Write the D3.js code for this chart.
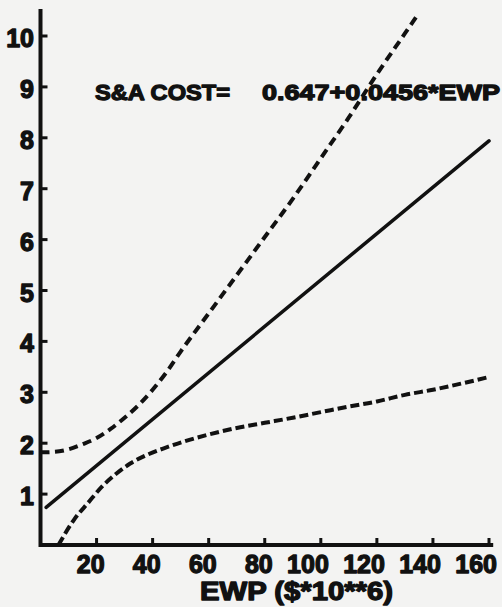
<!DOCTYPE html>
<html>
<head>
<meta charset="utf-8">
<script src="https://cdn.jsdelivr.net/npm/d3@7"></script>
<style>
  html, body { margin: 0; padding: 0; background: #f3f3f2; }
  svg { display: block; }
  text { font-family: "Liberation Sans", Arial, sans-serif; font-weight: bold; fill: #111; stroke: #111; stroke-width: 1.3; stroke-linejoin: round; }
</style>
</head>
<body>
<svg id="chart" width="502" height="607"></svg>
<script>
// ---- data ----
const xTicks = [20, 40, 60, 80, 100, 120, 140, 160];
const yTicks = [1, 2, 3, 4, 5, 6, 7, 8, 9, 10];

// fitted line: S&A COST = 0.647 + 0.0456 * EWP
const fitX = [2, 160];
const fitY = [0.74, 7.94];

// upper confidence limit (dashed)
const upperX = [0, 5, 10, 15, 20, 25, 30, 35, 40, 45, 50, 60, 70, 80, 90, 100, 110, 120, 130, 135];
const upperY = [1.82, 1.83, 1.88, 1.98, 2.1, 2.28, 2.5, 2.75, 3.05, 3.4, 3.8, 4.55, 5.3, 6.05, 6.8, 7.6, 8.4, 9.25, 10.05, 10.45];

// lower confidence limit (dashed)
const lowerX = [6.4, 12, 17, 22, 27, 32, 38, 44, 51, 60, 70, 80, 90, 100, 110, 120, 130, 140, 150, 160];
const lowerY = [0, 0.5, 0.83, 1.15, 1.4, 1.6, 1.77, 1.9, 2.03, 2.17, 2.3, 2.4, 2.5, 2.61, 2.72, 2.82, 2.95, 3.05, 3.17, 3.3];

const eqLeft = "S&A COST=";
const eqRight = "0.647+0.0456*EWP";
const xTitle = "EWP ($*10**6)";

// ---- drawing ----
const ink = "#111";
const svg = d3.select("#chart");
const x = d3.scaleLinear().domain([0, 160]).range([40.5, 489]);
const y = d3.scaleLinear().domain([0, 10]).range([545, 36]);

// axes lines
svg.append("line").attr("x1", x(0)).attr("x2", x(161.5)).attr("y1", y(0)).attr("y2", y(0))
  .attr("stroke", ink).attr("stroke-width", 4);
svg.append("line").attr("x1", x(0)).attr("x2", x(0)).attr("y1", y(0) + 2).attr("y2", y(10.53))
  .attr("stroke", ink).attr("stroke-width", 4);

// x ticks (pointing up)
svg.selectAll(".xt").data(xTicks).join("line")
  .attr("x1", d => x(d)).attr("x2", d => x(d))
  .attr("y1", y(0)).attr("y2", y(0) - 7)
  .attr("stroke", ink).attr("stroke-width", 3);
svg.selectAll(".xl").data(xTicks).join("text")
  .attr("x", d => x(d) + 8).attr("y", y(0) + 28)
  .attr("text-anchor", "end").attr("font-size", 25)
  .text(d => d);

// y ticks (pointing right)
svg.selectAll(".yt").data(yTicks).join("line")
  .attr("x1", x(0)).attr("x2", x(0) + 7)
  .attr("y1", d => y(d)).attr("y2", d => y(d))
  .attr("stroke", ink).attr("stroke-width", 3);
svg.selectAll(".yl").data(yTicks).join("text")
  .attr("x", 34).attr("y", d => y(d) + 11)
  .attr("text-anchor", "end").attr("font-size", 25)
  .text(d => d);

// x axis title
svg.append("text").attr("x", 200).attr("y", 600)
  .attr("font-size", 25).attr("textLength", 193).attr("lengthAdjust", "spacingAndGlyphs")
  .text(xTitle);

// lines
const line = d3.line().x(d => x(d[0])).y(d => y(d[1])).curve(d3.curveMonotoneX);
const fit = fitX.map((v, i) => [v, fitY[i]]);
const upper = upperX.map((v, i) => [v, upperY[i]]);
const lower = lowerX.map((v, i) => [v, lowerY[i]]);

svg.append("path").attr("d", line(fit)).attr("fill", "none")
  .attr("stroke", ink).attr("stroke-width", 3.5).attr("stroke-linecap", "round");
svg.append("path").attr("d", line(upper)).attr("fill", "none")
  .attr("stroke", ink).attr("stroke-width", 4).attr("stroke-dasharray", "9,5.5");
svg.append("path").attr("d", line(lower)).attr("fill", "none")
  .attr("stroke", ink).attr("stroke-width", 4).attr("stroke-dasharray", "9,4");

// equation
svg.append("text").attr("x", 95).attr("y", 100).attr("font-size", 22)
  .attr("textLength", 135).attr("lengthAdjust", "spacingAndGlyphs").text(eqLeft);
svg.append("text").attr("x", 262).attr("y", 100).attr("font-size", 22)
  .attr("textLength", 238).attr("lengthAdjust", "spacingAndGlyphs").text(eqRight);
</script>
</body>
</html>
